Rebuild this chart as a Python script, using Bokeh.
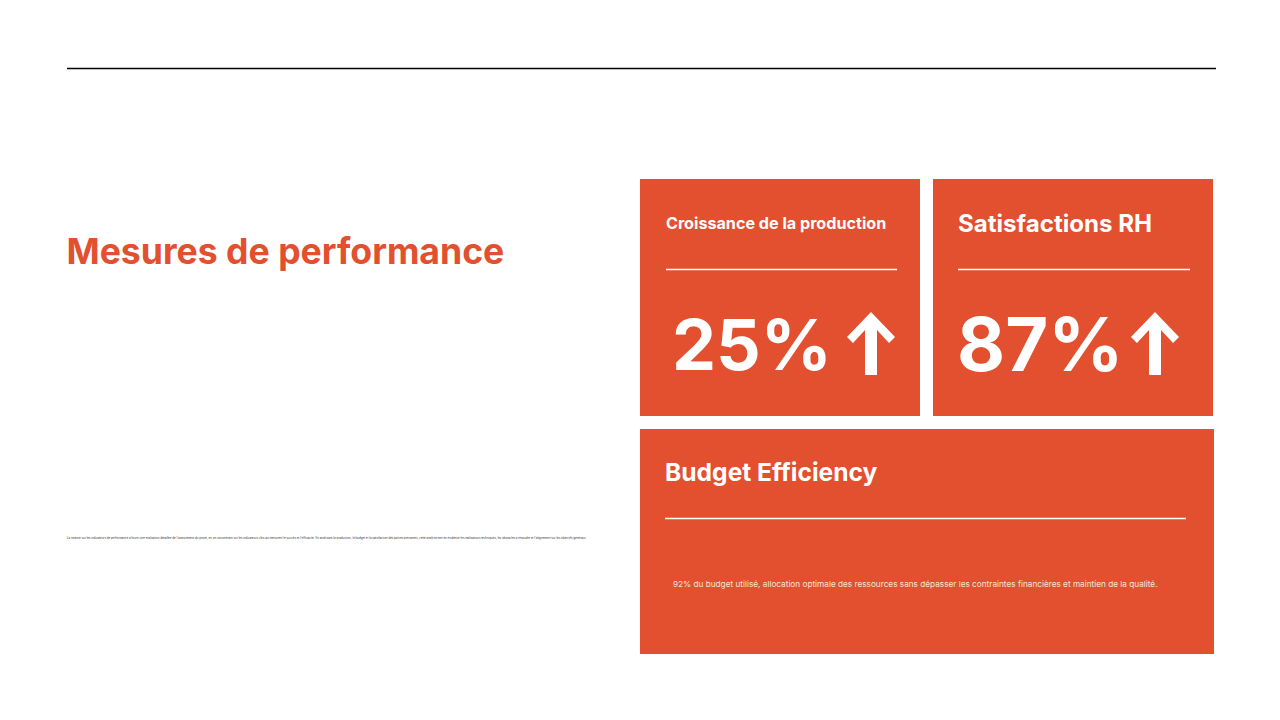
from bokeh.plotting import figure
from bokeh.models import Range1d
from bokeh.core.properties import value
from bokeh.embed import file_html
from bokeh.resources import INLINE

heading = "Mesures de performance"
body = ("La séance sur les indicateurs de performance a fourni une évaluation détaillée de l'avancement du projet, "
        "en se concentrant sur les indicateurs clés qui mesurent le succès et l'efficacité. En analysant la production, "
        "le budget et la satisfaction des parties prenantes, cette analyse met en évidence les réalisations techniques, "
        "les obstacles à résoudre et l'alignement sur les objectifs généraux.")
card_titles = ["Croissance de la production", "Satisfactions RH", "Budget Efficiency"]
card_values = ["25%", "87%"]
budget_note = ("92% du budget utilisé, allocation optimale des ressources sans dépasser "
               "les contraintes financières et maintien de la qualité.")

ORANGE = "#E2502F"
FONT = "Inter"

p = figure(width=1264, height=704, output_backend="svg", toolbar_location=None,
           x_range=Range1d(0.5, 1264.5), y_range=Range1d(704.5, 0.5),
           min_border=0, outline_line_color=None, background_fill_color="white", border_fill_color="white")
p.axis.visible = False
p.grid.visible = False

# page rule
p.segment(67, 68.5, 1216, 68.5, line_color="black", line_width=1.6)

# cards
p.quad(left=[640, 933, 640], right=[920, 1213, 1214], top=[179, 179, 429], bottom=[416, 416, 654],
       fill_color=ORANGE, line_color=None)

# dividers
p.segment([666, 958, 665], [269.5, 269.5, 518.5], [897, 1190, 1186], [269.5, 269.5, 518.5],
          line_color="white", line_width=1.5)

def label(x, y, s, size, color="white", bold=True):
    p.text([x], [y], text=[s], text_font=value(FONT), text_font_size=f"{size}px",
           text_font_style="bold" if bold else "normal", text_color=color,
           text_baseline="middle", text_align="left")

label(66.5, 251, heading, 35.6, ORANGE)
label(67, 538, body, 2.83, "#333333", bold=False)
label(666, 223, card_titles[0], 16.15)
label(958, 223, card_titles[1], 24.1)
label(665, 472, card_titles[2], 24.6)
label(672, 344, card_values[0], 70)
label(957, 344, card_values[1], 74)
label(673, 583.5, budget_note, 8.23, "#FBE3DC", bold=False)

# arrows
def arrow(dx):
    xs = [871, 895, 889, 877, 877, 865, 865, 853, 847]
    ys = [312, 337, 343, 330, 375, 375, 330, 343, 337]
    p.patch([x + dx for x in xs], ys, fill_color="white", line_color=None)

arrow(0)
arrow(284)

open("out.html", "w").write(file_html(p, INLINE))
